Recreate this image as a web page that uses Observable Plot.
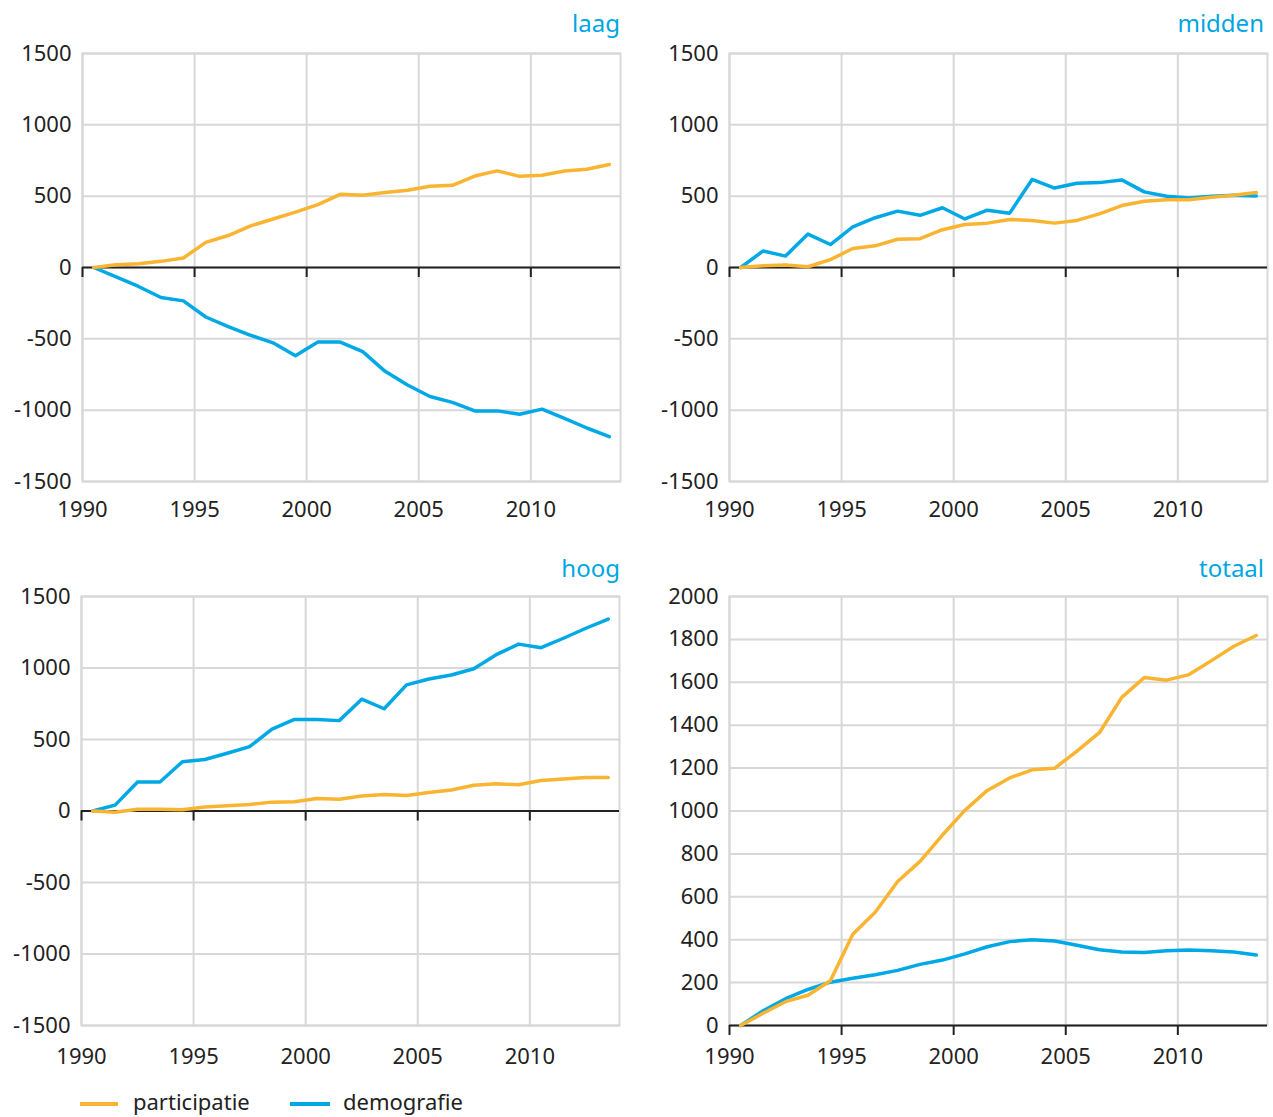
<!DOCTYPE html>
<html>
<head>
<meta charset="utf-8">
<script src="https://cdn.jsdelivr.net/npm/d3@7"></script>
<script src="https://cdn.jsdelivr.net/npm/@observablehq/plot@0.6"></script>
<style>
  body { margin: 0; background: #fff; font-family: "Noto Sans", sans-serif; }
  #wrap { position: relative; width: 1273px; height: 1117px; overflow: hidden; }
  .panel { position: absolute; }
  .title { position: absolute; color: #00a6e2; font-size: 24px; line-height: 30px; height: 30px; white-space: nowrap; }
  .legend { position: absolute; left: 0; top: 1088px; width: 600px; height: 26px; font-size: 22px; color: #222; }
  .item { position: absolute; top: 0; line-height: 26px; white-space: nowrap; }
  .sw { position: absolute; top: 14px; height: 3.5px; }
</style>
</head>
<body>
<div id="wrap"></div>
<script>
// ---- data ----
const years = [1990,1991,1992,1993,1994,1995,1996,1997,1998,1999,2000,2001,2002,2003,2004,2005,2006,2007,2008,2009,2010,2011,2012,2013];
const seriesNames = ["participatie", "demografie"];
const seriesColors = ["#f9b432", "#00a9e6"];
const panelTitles = ["laag", "midden", "hoog", "totaal"];
const xTicks = [1990, 1995, 2000, 2005, 2010];
const yTicks = [-1500, -1000, -500, 0, 500, 1000, 1500];
const yTicksTotaal = [0, 200, 400, 600, 800, 1000, 1200, 1400, 1600, 1800, 2000];

const laagParticipatie = [0,20,27,43,67,176,224,292,340,388,441,513,506,525,542,569,576,641,677,639,646,677,689,722];
const laagDemografie   = [0,-65,-133,-210,-234,-347,-415,-475,-528,-619,-523,-523,-590,-728,-824,-904,-945,-1005,-1005,-1029,-993,-1058,-1125,-1186];

const middenParticipatie = [0,12,17,5,55,133,152,198,202,265,301,311,337,330,311,330,376,434,465,475,475,492,506,525];
const middenDemografie   = [0,116,80,234,161,284,349,395,366,419,340,402,381,617,557,590,595,614,530,499,487,499,506,501];

const hoogParticipatie = [0,-8,13,13,8,28,36,46,62,64,87,82,105,116,108,129,147,180,190,183,213,224,234,234];
const hoogDemografie   = [0,41,203,203,344,360,404,450,573,640,640,632,782,715,882,923,951,995,1093,1167,1142,1208,1278,1342];

const totaalParticipatie = [0,57,111,141,209,425,528,671,765,888,1003,1096,1154,1192,1199,1279,1365,1530,1622,1610,1636,1701,1768,1818];
const totaalDemografie   = [0,69,125,168,202,220,237,257,285,305,334,367,391,400,394,374,353,343,340,348,352,348,343,329];

// ---- drawing ----
const wrap = document.getElementById("wrap");
const fmt = d => String(d);

function makePanel(cfg) {
  const data = [];
  years.forEach((yr, i) => data.push({year: yr, value: cfg.demo[i], series: seriesNames[1]}));
  years.forEach((yr, i) => data.push({year: yr, value: cfg.part[i], series: seriesNames[0]}));
  const chart = Plot.plot({
    width: cfg.width, height: cfg.height,
    marginLeft: cfg.mL, marginRight: cfg.mR, marginTop: cfg.mT, marginBottom: cfg.mB,
    style: {fontFamily: "'Noto Sans', sans-serif", fontSize: "22px", color: "#222", background: "transparent", overflow: "visible"},
    x: {domain: [1990, 2014], label: null},
    y: {domain: cfg.yDomain, label: null},
    color: {domain: seriesNames, range: seriesColors},
    marks: [
      Plot.gridX(xTicks, {stroke: "#d8d8d8", strokeOpacity: 1, strokeWidth: 2}),
      Plot.gridY(cfg.yTicks, {stroke: "#d8d8d8", strokeOpacity: 1, strokeWidth: 2}),
      Plot.frame({stroke: "#d8d8d8", strokeWidth: 2}),
      Plot.axisX(xTicks, {tickSize: 0, tickPadding: cfg.xPad, tickFormat: fmt, label: null, fontSize: 22, fill: "#222"}),
      Plot.axisY(cfg.yTicks, {tickSize: 0, tickPadding: 11, tickFormat: fmt, label: null, fontSize: 22, fill: "#222"}),
      Plot.ruleY([0], {stroke: "#222", strokeWidth: 2}),
      Plot.ruleX(xTicks, {y1: 0, y2: 0, insetBottom: -10, stroke: "#222", strokeWidth: 2}),
      Plot.line(data, {x: d => d.year + 0.5, y: "value", z: "series", stroke: "series", strokeWidth: 3.5})
    ]
  });
  const div = document.createElement("div");
  div.className = "panel";
  div.style.left = cfg.left + "px";
  div.style.top = cfg.top + "px";
  div.appendChild(chart);
  wrap.appendChild(div);

  const t = document.createElement("div");
  t.className = "title";
  t.textContent = cfg.title;
  t.style.right = cfg.titleRight + "px";
  t.style.top = cfg.titleTop + "px";
  wrap.appendChild(t);
}

makePanel({title: panelTitles[0], part: laagParticipatie, demo: laagDemografie, yDomain: [-1500, 1500], yTicks,
  left: 0, top: 0, width: 636, height: 540, mL: 82, mR: 16, mT: 53, mB: 59, xPad: 20, titleRight: 653, titleTop: 8});
makePanel({title: panelTitles[1], part: middenParticipatie, demo: middenDemografie, yDomain: [-1500, 1500], yTicks,
  left: 637, top: 0, width: 636, height: 540, mL: 92, mR: 6, mT: 53, mB: 59, xPad: 20, titleRight: 9, titleTop: 8});
makePanel({title: panelTitles[2], part: hoogParticipatie, demo: hoogDemografie, yDomain: [-1500, 1500], yTicks,
  left: 0, top: 540, width: 636, height: 540, mL: 81, mR: 17, mT: 56, mB: 55, xPad: 23, titleRight: 653, titleTop: 553});
makePanel({title: panelTitles[3], part: totaalParticipatie, demo: totaalDemografie, yDomain: [0, 2000], yTicks: yTicksTotaal,
  left: 637, top: 540, width: 636, height: 540, mL: 92, mR: 6, mT: 56, mB: 55, xPad: 23, titleRight: 9, titleTop: 553});

// legend
const lg = document.createElement("div");
lg.className = "legend";
const legendPos = [{sw: 80, swW: 38, tx: 133}, {sw: 290, swW: 40, tx: 343}];
seriesNames.forEach((name, i) => {
  const sw = document.createElement("div");
  sw.className = "sw";
  sw.style.left = legendPos[i].sw + "px";
  sw.style.width = legendPos[i].swW + "px";
  sw.style.background = seriesColors[i];
  lg.appendChild(sw);
  const tx = document.createElement("div");
  tx.className = "item";
  tx.style.left = legendPos[i].tx + "px";
  tx.textContent = name;
  lg.appendChild(tx);
});
wrap.appendChild(lg);
</script>
</body>
</html>
